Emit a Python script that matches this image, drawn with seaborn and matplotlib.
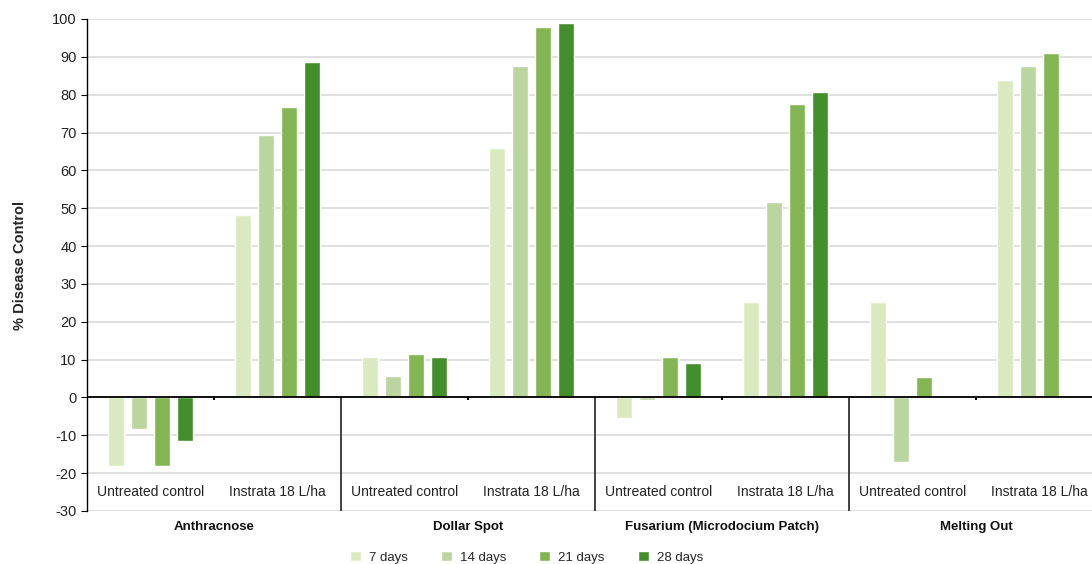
import numpy as np
import pandas as pd
import seaborn as sns
from matplotlib import pyplot as plt
from matplotlib.transforms import blended_transform_factory

# values (% disease control)
diseases = ["Anthracnose", "Dollar Spot", "Fusarium (Microdocium Patch)", "Melting Out"]
treatments = ["Untreated control", "Instrata 18 L/ha"]
days = ["7 days", "14 days", "21 days", "28 days"]
colors = ["#dbe9c0", "#bad59d", "#84b553", "#438f2b"]

# one list per timing, order: disease x treatment
d7 = [-18.1, 48.3, 10.8, 66.0, -5.3, 25.3, 25.3, 83.9]
d14 = [-8.4, 69.4, 5.8, 87.6, -0.7, 51.7, -17.1, 87.6]
d21 = [-18.1, 76.8, 11.6, 97.9, 10.8, 77.6, 5.3, 91.0]
d28 = [-11.6, 88.7, 10.8, 98.9, 9.2, 80.7, np.nan, np.nan]

keys = [f"{d}|{t}" for d in diseases for t in treatments]
rows = []
for lab, vals in zip(days, [d7, d14, d21, d28]):
    for k, v in zip(keys, vals):
        rows.append({"key": k, "days": lab, "value": v})
df = pd.DataFrame(rows).dropna()

sns.set_style("white")
plt.rcParams["font.family"] = ["Liberation Sans", "DejaVu Sans"]
plt.rcParams["axes.unicode_minus"] = False

fig = plt.figure(figsize=(10.92, 5.64), dpi=100)
ax = fig.add_axes([87 / 1092, 1 - 511 / 564, 1 - 87 / 1092, (511 - 19) / 564])

sns.barplot(data=df, x="key", y="value", hue="days", order=keys,
            hue_order=days, palette=colors, saturation=1, errorbar=None,
            width=0.724, gap=0.29, ax=ax, legend=True)

ax.set_ylim(-30, 100)
ax.set_xlim(-0.5, 7.413)
ax.set_yticks(range(-30, 101, 10))
ax.yaxis.grid(True, color="#e0e0e0", lw=1.4)
ax.set_axisbelow(True)
for s in ["top", "right", "bottom"]:
    ax.spines[s].set_visible(False)
ax.spines["left"].set_color("black")
ax.spines["left"].set_linewidth(1.0)
ax.tick_params(axis="y", left=True, length=4, color="black", labelsize=10.5,
               labelcolor="#222222")
ax.set_xticks([])
ax.set_xlabel("")
ax.set_ylabel("% Disease Control", fontsize=10.5, fontweight="bold",
              labelpad=18)

# zero line, group separators and small ticks
ax.axhline(0, color="black", lw=1.3, zorder=3)
ax.vlines([1.5, 3.5, 5.5], -30, 0, color="#333333", lw=1.3)
ax.vlines([0.5, 2.5, 4.5, 6.5], -0.7, 0, color="black", lw=1.5)

# treatment and disease labels
for i, k in enumerate(keys):
    ax.text(i, -25, k.split("|")[1], ha="center", va="center", fontsize=10,
            color="#222222")
trans = blended_transform_factory(ax.transData, ax.transAxes)
for i, d in enumerate(diseases):
    ax.text(2 * i + 0.5, -0.033, d, transform=trans, ha="center",
            va="center", fontsize=9.5, fontweight="bold", color="#111111")

handles, labels = ax.get_legend_handles_labels()
ax.legend_.remove()
fig.legend(handles, labels, loc="center", bbox_to_anchor=(0.482, 0.012),
           ncol=4, frameon=False, fontsize=9.5, handlelength=0.85,
           handleheight=0.85, handletextpad=0.6, columnspacing=2.5)

fig.savefig("out.png", dpi=100)
